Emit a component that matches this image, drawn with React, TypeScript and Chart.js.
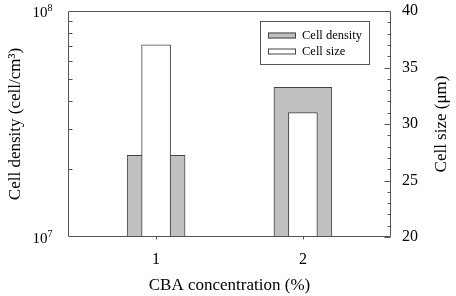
import { useEffect, useRef } from "react";
import { Chart, registerables } from "chart.js";

Chart.register(...registerables);

// CBA concentration (%) on the x axis
const concentrations = [1, 2];
// Cell density (cell/cm^3), left log axis
const cellDensity = [2.3e7, 4.6e7];
// Cell size (μm), right linear axis
const cellSize = [37, 31];

const densityTicks = [1e7, 1e8];
const sizeTicks = [20, 25, 30, 35, 40];
const concentrationTicks = [1, 2];

const SERIF = "'Liberation Serif', 'Times New Roman', serif";
const AXIS_COLOR = "#555";

// keep the plot box fixed regardless of label overflow
const fixBox = (w?: number, h?: number) => (s: any) => {
  if (w !== undefined) s.width = w;
  if (h !== undefined) s.height = h;
  s.paddingTop = 0;
  s.paddingBottom = 0;
  s.paddingLeft = 0;
  s.paddingRight = 0;
};

const decorPlugin = {
  id: "decor",
  afterDatasetsDraw(chart: any) {
    const { ctx, chartArea: a, scales } = chart;
    const L = Math.round(a.left) + 0.5;
    const R = Math.round(a.right) - 0.5;
    const T = Math.round(a.top) + 0.5;
    const B = Math.round(a.bottom) - 0.5;
    ctx.save();
    ctx.strokeStyle = AXIS_COLOR;
    ctx.lineWidth = 1;
    ctx.beginPath();
    ctx.rect(L, T, R - L, B - T);
    // log minor ticks (inside, left)
    for (let m = 2; m <= 9; m++) {
      const y = Math.round(scales.y.getPixelForValue(m * 1e7)) + 0.5;
      ctx.moveTo(L, y);
      ctx.lineTo(L + 4, y);
    }
    // right axis ticks (inside)
    const y1 = scales.y1;
    for (let v = y1.min; v <= y1.max; v++) {
      const y = Math.round(y1.getPixelForValue(v)) + 0.5;
      const len = v % 5 === 0 ? 6 : 3;
      ctx.moveTo(R, y);
      ctx.lineTo(R - len, y);
    }
    // x ticks (outside)
    for (const v of concentrationTicks) {
      const x = Math.round(scales.x.getPixelForValue(v)) + 0.5;
      ctx.moveTo(x, B);
      ctx.lineTo(x, B + 3);
    }
    ctx.stroke();

    // left tick labels as powers of ten
    ctx.fillStyle = "#000";
    for (const v of densityTicks) {
      const y = scales.y.getPixelForValue(v);
      const exp = Math.round(Math.log10(v));
      ctx.font = `15px ${SERIF}`;
      ctx.textAlign = "right";
      ctx.textBaseline = "alphabetic";
      ctx.fillText("10", 47.5, y + 5.5);
      ctx.font = `10px ${SERIF}`;
      ctx.textAlign = "left";
      ctx.fillText(String(exp), 47.5, y - 0.5);
    }

    // right axis title, reading bottom to top
    ctx.save();
    ctx.translate(442, (a.top + a.bottom) / 2);
    ctx.rotate(-Math.PI / 2);
    ctx.font = `17px ${SERIF}`;
    ctx.textAlign = "center";
    ctx.textBaseline = "middle";
    ctx.fillText("Cell size (\u03bcm)", 0, 0);
    ctx.restore();

    // legend
    const lx = 260.5, ly = 21.5, lw = 109, lh = 43;
    ctx.strokeStyle = AXIS_COLOR;
    ctx.strokeRect(lx, ly, lw, lh);
    ctx.font = `12.5px ${SERIF}`;
    ctx.textAlign = "left";
    ctx.textBaseline = "middle";
    chart.data.datasets.forEach((ds: any, i: number) => {
      const cy = 35.5 + i * 16;
      ctx.fillStyle = ds.backgroundColor;
      ctx.fillRect(268, cy - 3, 28, 6);
      ctx.strokeStyle = ds.borderColor;
      ctx.strokeRect(268.5, cy - 2.5, 27, 5);
      ctx.fillStyle = "#000";
      ctx.fillText(ds.label, 302, cy);
    });
    ctx.restore();
  },
};

export default function App() {
  const ref = useRef<HTMLCanvasElement>(null);

  useEffect(() => {
    if (!ref.current) return;
    const chart = new Chart(ref.current, {
      type: "bar",
      data: {
        datasets: [
          {
            label: "Cell density",
            data: concentrations.map((c, i) => ({ x: c, y: cellDensity[i] })),
            yAxisID: "y",
            backgroundColor: "#c0c0c0",
            borderColor: "#444",
            borderWidth: 1,
            barThickness: 58,
            grouped: false,
            order: 2,
          },
          {
            label: "Cell size",
            data: concentrations.map((c, i) => ({ x: c, y: cellSize[i] })),
            yAxisID: "y1",
            backgroundColor: "#ffffff",
            borderColor: "#444",
            borderWidth: 1,
            barThickness: 29,
            grouped: false,
            base: 20,
            order: 1,
          },
        ],
      } as any,
      options: {
        animation: false,
        responsive: false,
        layout: { padding: { top: 11, left: 0, right: 0, bottom: 0 } },
        plugins: { legend: { display: false }, tooltip: { enabled: false } },
        scales: {
          x: {
            type: "linear",
            position: "bottom",
            min: 0.4,
            max: 2.6,
            offset: false,
            afterBuildTicks: (s: any) => {
              s.ticks = concentrationTicks.map((v) => ({ value: v }));
            },
            afterFit: fixBox(undefined, 59),
            grid: { display: false, drawTicks: false },
            border: { display: false },
            ticks: { font: { family: SERIF, size: 16 }, color: "#000", padding: 13, maxRotation: 0 },
            title: {
              display: true,
              text: "CBA concentration (%)",
              font: { family: SERIF, size: 17 },
              color: "#000",
              padding: { top: 0, bottom: 0 },
            },
          },
          y: {
            type: "logarithmic",
            position: "left",
            min: 1e7,
            max: 1e8,
            afterFit: fixBox(68),
            grid: { display: false, drawTicks: false },
            border: { display: false },
            ticks: { display: false },
            title: {
              display: true,
              text: "Cell density (cell/cm\u00b3)",
              font: { family: SERIF, size: 17 },
              color: "#000",
              padding: { top: 5, bottom: 0 },
            },
          },
          y1: {
            type: "linear",
            position: "right",
            min: 20,
            max: 40,
            afterBuildTicks: (s: any) => {
              s.ticks = sizeTicks.map((v) => ({ value: v }));
            },
            afterFit: fixBox(65),
            grid: { display: false, drawTicks: false },
            border: { display: false },
            ticks: { font: { family: SERIF, size: 16 }, color: "#000", padding: 11 },
          },
        },
      } as any,
      plugins: [decorPlugin],
    });
    return () => chart.destroy();
  }, []);

  return (
    <div style={{ position: "fixed", left: 0, top: 0, width: 456, height: 296, background: "#fff" }}>
      <canvas ref={ref} width={456} height={296} style={{ display: "block" }} />
    </div>
  );
}
